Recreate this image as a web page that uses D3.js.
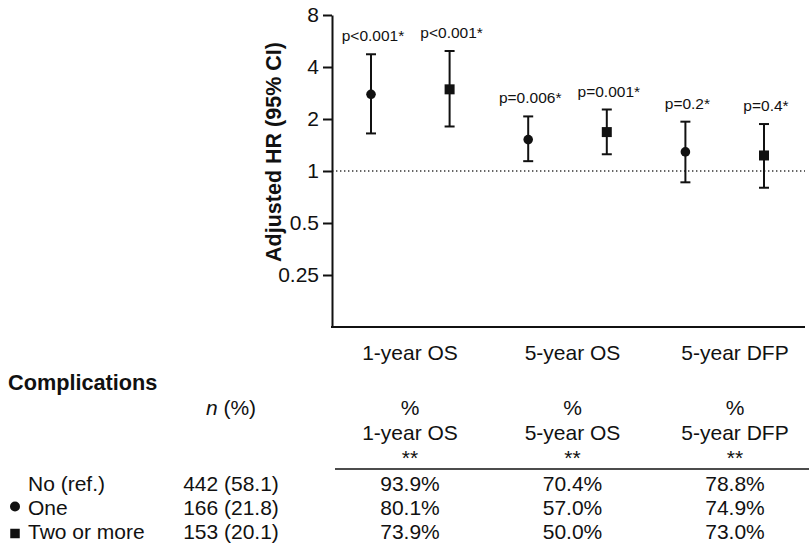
<!DOCTYPE html>
<html>
<head>
<meta charset="utf-8">
<script src="https://cdn.jsdelivr.net/npm/d3@7"></script>
<style>
  html, body { margin: 0; padding: 0; background: #fff; }
  svg { display: block; font-family: "Liberation Sans", Arial, sans-serif; }
</style>
</head>
<body>
<svg id="chart" width="809" height="546"></svg>
<script>
// outcomes on the x axis
const categories = ["1-year OS", "5-year OS", "5-year DFP"];

// adjusted HR, one complication (circle)
const hrOne = [2.78, 1.52, 1.29];
const loOne = [1.65, 1.14, 0.86];
const hiOne = [4.74, 2.07, 1.93];
const pOne = ["p<0.001*", "p=0.006*", "p=0.2*"];

// adjusted HR, two or more complications (square)
const hrTwo = [2.97, 1.68, 1.23];
const loTwo = [1.81, 1.25, 0.80];
const hiTwo = [4.95, 2.27, 1.87];
const pTwo = ["p<0.001*", "p=0.001*", "p=0.4*"];

const yTicks = [0.25, 0.5, 1, 2, 4, 8];

// table under the chart
const rowLabels = ["No (ref.)", "One", "Two or more"];
const rowMarks = [null, "circle", "square"];
const nPct = ["442 (58.1)", "166 (21.8)", "153 (20.1)"];
const os1 = ["93.9%", "80.1%", "73.9%"];
const os5 = ["70.4%", "57.0%", "50.0%"];
const dfp5 = ["78.8%", "74.9%", "73.0%"];

const svg = d3.select("#chart");
const ink = "#111";

const y = d3.scaleLog().base(2).domain([0.125, 8]).range([327, 15]);

// 6 marker slots: each outcome x (one, two+)
const marks = [];
categories.forEach((c, i) => {
  marks.push({ key: c + "|one", shape: "circle", hr: hrOne[i], lo: loOne[i], hi: hiOne[i], p: pOne[i] });
  marks.push({ key: c + "|two", shape: "square", hr: hrTwo[i], lo: loTwo[i], hi: hiTwo[i], p: pTwo[i] });
});
const xMark = d3.scalePoint().domain(marks.map(d => d.key)).range([371, 764]);
const xCol = d3.scalePoint().domain(categories).range([410, 735]);

const axisX0 = 332, axisX1 = 805;

// reference line at HR = 1
svg.append("line")
  .attr("x1", axisX0).attr("x2", axisX1)
  .attr("y1", y(1)).attr("y2", y(1))
  .attr("stroke", "#333").attr("stroke-width", 1.3)
  .attr("stroke-dasharray", "1.4,2.6");

// y axis
const yAxis = svg.append("g")
  .attr("transform", `translate(${axisX0},0)`)
  .call(d3.axisLeft(y).tickValues(yTicks).tickFormat(d => String(d))
    .tickSize(9).tickSizeOuter(0).tickPadding(4));
yAxis.select(".domain").attr("stroke", ink).attr("stroke-width", 2);
yAxis.selectAll(".tick line").attr("stroke", ink).attr("stroke-width", 2);
yAxis.selectAll(".tick text")
  .attr("fill", ink).style("font-size", "21px")
  .style("font-family", "'Liberation Sans', Arial, sans-serif");

// x axis baseline
svg.append("line")
  .attr("x1", axisX0 - 1).attr("x2", axisX1)
  .attr("y1", y(0.125)).attr("y2", y(0.125))
  .attr("stroke", ink).attr("stroke-width", 2);

svg.selectAll(".xlab").data(categories).join("text")
  .attr("class", "xlab")
  .attr("x", d => xCol(d)).attr("y", 360)
  .attr("text-anchor", "middle")
  .attr("font-size", 21).attr("fill", ink)
  .text(d => d);

// y title
svg.append("text")
  .attr("transform", "translate(281,152) rotate(-90)")
  .attr("text-anchor", "middle")
  .attr("font-size", 21.5).attr("font-weight", "bold").attr("fill", ink)
  .text("Adjusted HR (95% CI)");

// error bars
const cap = 5;
const eb = svg.selectAll(".eb").data(marks).join("g").attr("class", "eb");
eb.append("line")
  .attr("x1", d => xMark(d.key)).attr("x2", d => xMark(d.key))
  .attr("y1", d => y(d.lo)).attr("y2", d => y(d.hi))
  .attr("stroke", ink).attr("stroke-width", 2);
eb.append("line")
  .attr("x1", d => xMark(d.key) - cap).attr("x2", d => xMark(d.key) + cap)
  .attr("y1", d => y(d.hi)).attr("y2", d => y(d.hi))
  .attr("stroke", ink).attr("stroke-width", 2);
eb.append("line")
  .attr("x1", d => xMark(d.key) - cap).attr("x2", d => xMark(d.key) + cap)
  .attr("y1", d => y(d.lo)).attr("y2", d => y(d.lo))
  .attr("stroke", ink).attr("stroke-width", 2);

const symCircle = d3.symbol().type(d3.symbolCircle).size(Math.PI * 4.8 * 4.8);
const symSquare = d3.symbol().type(d3.symbolSquare).size(10 * 10);
eb.append("path")
  .attr("transform", d => `translate(${xMark(d.key)},${y(d.hr)})`)
  .attr("d", d => d.shape === "circle" ? symCircle() : symSquare())
  .attr("fill", ink);

// p values above each bar
eb.append("text")
  .attr("x", d => xMark(d.key) + 2)
  .attr("y", d => y(d.hi) - 13)
  .attr("text-anchor", "middle")
  .attr("font-size", 15.5).attr("fill", ink)
  .text(d => d.p);

// ---- table ----
svg.append("text")
  .attr("x", 8).attr("y", 390)
  .attr("font-size", 21.7).attr("font-weight", "bold").attr("fill", ink)
  .text("Complications");

const nX = 231;
const nHead = svg.append("text")
  .attr("x", nX).attr("y", 415)
  .attr("text-anchor", "middle")
  .attr("font-size", 21).attr("fill", ink);
nHead.append("tspan").attr("font-style", "italic").text("n");
nHead.append("tspan").text(" (%)");

const headY = [415, 440, 465];
svg.selectAll(".colhead").data(categories).join("g")
  .attr("class", "colhead")
  .each(function (c) {
    const g = d3.select(this);
    ["%", c, "**"].forEach((t, k) => {
      g.append("text")
        .attr("x", xCol(c)).attr("y", headY[k])
        .attr("text-anchor", "middle")
        .attr("font-size", 21).attr("fill", ink)
        .text(t);
    });
  });

svg.append("line")
  .attr("x1", 335).attr("x2", 809)
  .attr("y1", 469).attr("y2", 469)
  .attr("stroke", ink).attr("stroke-width", 1.5);

const rowY = [491, 515, 539];
const colValues = [os1, os5, dfp5];

rowLabels.forEach((lab, r) => {
  svg.append("text")
    .attr("x", 28).attr("y", rowY[r])
    .attr("font-size", 21).attr("fill", ink)
    .text(lab);
  svg.append("text")
    .attr("x", nX).attr("y", rowY[r])
    .attr("text-anchor", "middle")
    .attr("font-size", 21).attr("fill", ink)
    .text(nPct[r]);
  categories.forEach((c, j) => {
    svg.append("text")
      .attr("x", xCol(c)).attr("y", rowY[r])
      .attr("text-anchor", "middle")
      .attr("font-size", 21).attr("fill", ink)
      .text(colValues[j][r]);
  });
  if (rowMarks[r]) {
    const isCircle = rowMarks[r] === "circle";
    const s = isCircle
      ? d3.symbol().type(d3.symbolCircle).size(Math.PI * 5 * 5)
      : d3.symbol().type(d3.symbolSquare).size(9.5 * 9.5);
    svg.append("path")
      .attr("transform", `translate(15,${rowY[r] - (isCircle ? 8.5 : 5.5)})`)
      .attr("d", s())
      .attr("fill", ink);
  }
});
</script>
</body>
</html>
